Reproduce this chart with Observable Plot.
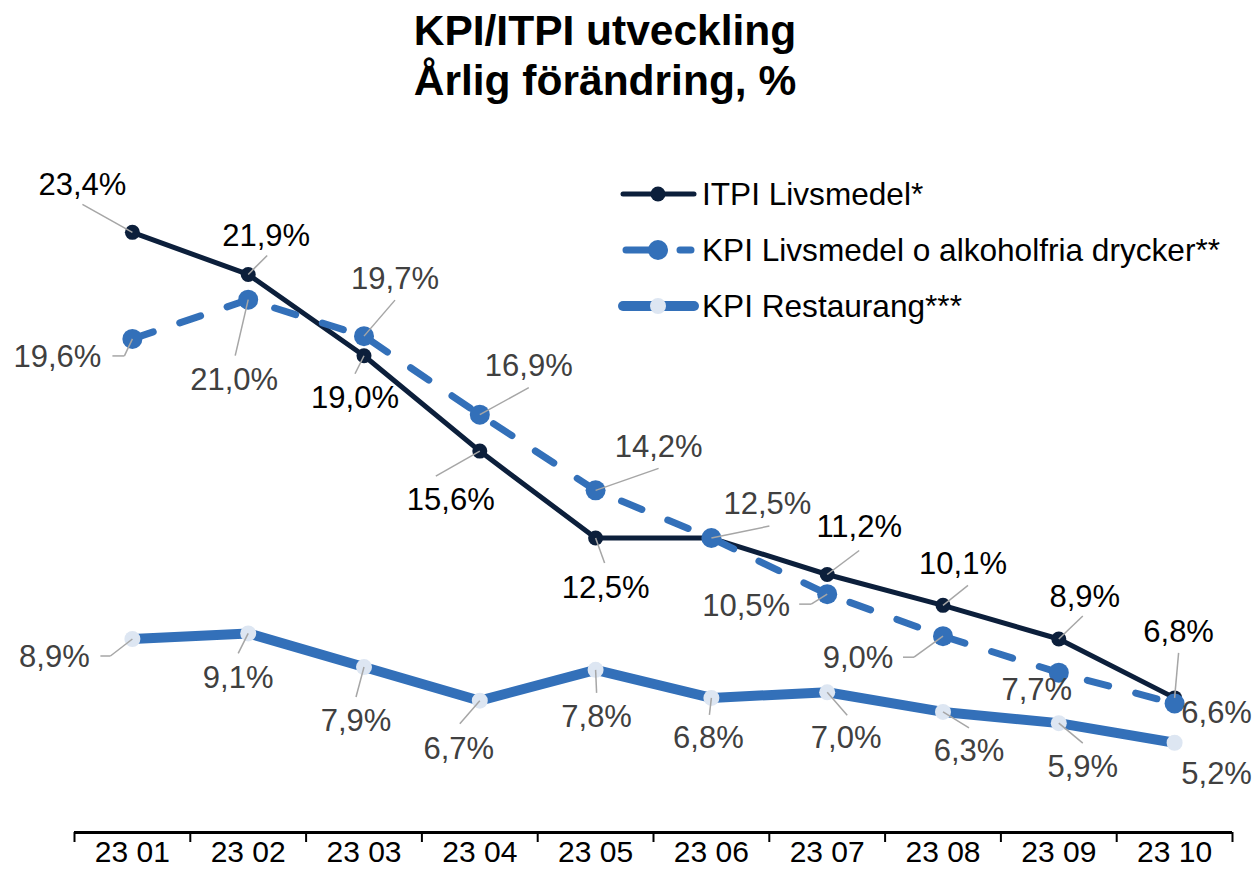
<!DOCTYPE html>
<html>
<head>
<meta charset="utf-8">
<script src="https://cdn.jsdelivr.net/npm/d3@7"></script>
<script src="https://cdn.jsdelivr.net/npm/@observablehq/plot@0.6"></script>
<style>
  body { margin: 0; background: #fff; font-family: "Liberation Sans", Arial, sans-serif; }
  #wrap { position: relative; width: 1256px; height: 875px; overflow: hidden; }
  #title { height: 110px; box-sizing: border-box; padding-top: 6px; width: 1210px; text-align: center;
           font-weight: bold; font-size: 42.5px; line-height: 50px; color: #000; }
  .legend-row { position: absolute; left: 618px; height: 40px; display: flex; align-items: center;
                font-size: 31.6px; color: #000; white-space: nowrap; }
  .legend-row svg { display: block; margin-right: 2px; }
  #chart svg g[aria-label="x-axis tick"] path,
  #chart svg g[aria-label="x-axis"] .tick line { stroke: #000; stroke-width: 2px; }
</style>
</head>
<body>
<div id="wrap">
  <div id="title">KPI/ITPI utveckling<br>Årlig förändring, %</div>
  <div id="chart"></div>
  <div id="legend"></div>
</div>
<script>
// ---------- data ----------
const categories = ["23 01", "23 02", "23 03", "23 04", "23 05", "23 06", "23 07", "23 08", "23 09", "23 10"];
const itpiLivsmedel = [23.4, 21.9, 19.0, 15.6, 12.5, 12.5, 11.2, 10.1, 8.9, 6.8];
const kpiLivsmedel  = [19.6, 21.0, 19.7, 16.9, 14.2, 12.5, 10.5, 9.0, 7.7, 6.6];
const kpiRestaurang = [8.9, 9.1, 7.9, 6.7, 7.8, 6.8, 7.0, 6.3, 5.9, 5.2];
const seriesNames = ["ITPI Livsmedel*", "KPI Livsmedel o alkoholfria drycker**", "KPI Restaurang***"];

// ---------- label placement (pixel offsets from the data point) ----------
const itpiLabelOffsets = [[-50,-47],[18,-38],[-9,42],[-29,49],[10,50],null,[32,-47],[20,-41],[26,-42],[4,-66]];
const itpiLeaders      = [[-50,-28],[19,-19],[-9,18],[-44,25],[9,25],null,[32,-24],[25,-20],[24,-23],[4,-45]];
const kpiLabelOffsets  = [[-75,18],[-14,80],[31,-57],[49,-49],[63,-43],[56,-34],[-81,12],[-85,22],[-22,17],[42,10]];
const kpiLeaders       = [[-8,17,-20,17],[-13,56],[31,-36],[49,-27],[63,-22],[58,-12],[-16,10,-28,10],[-29,21,-40,21],null,null];
const restLabelOffsets = [[-78,18],[-10,45],[-8,54],[-21,48],[1,47],[-3,40],[19,46],[26,39],[24,44],[42,31]];
const restLeaders      = [[-22,17,-32,17],[-10,20],[-8,30],[-20,23],[1,23],[-2,17],[20,23],[26,16],[24,20],null];

// ---------- layout ----------
const W = 1256, H = 765, mL = 74, mR = 24, mT = 77, mB = 43;
const xDom = [-0.5, categories.length - 0.5];
const yDom = [2, 25];
const pxX = (W - mL - mR) / (xDom[1] - xDom[0]);
const pxY = (H - mT - mB) / (yDom[1] - yDom[0]);
const navy = "#0c1f3b", blue = "#3370b9", light = "#dde6f2";

const fmt = v => v.toFixed(1).replace(".", ",") + "%";
const toRows = vals => vals.map((v, i) => ({i, v}));

const series = [
  {values: itpiLivsmedel, offsets: itpiLabelOffsets, leaders: itpiLeaders, dark: true},
  {values: kpiLivsmedel, offsets: kpiLabelOffsets, leaders: kpiLeaders, dark: false},
  {values: kpiRestaurang, offsets: restLabelOffsets, leaders: restLeaders, dark: false}
];
const labels = [], leaders = [];
series.forEach(s => s.values.forEach((v, i) => {
  const o = s.offsets[i];
  if (!o) return;
  labels.push({x: i + o[0] / pxX, y: v - o[1] / pxY, text: fmt(v), dark: s.dark});
  const L = s.leaders[i];
  if (!L) return;
  let px = i, py = v;
  for (let k = 0; k < L.length; k += 2) {
    const nx = i + L[k] / pxX, ny = v - L[k + 1] / pxY;
    leaders.push({x1: px, y1: py, x2: nx, y2: ny});
    px = nx; py = ny;
  }
}));

const boundaries = d3.range(categories.length + 1).map(k => k - 0.5);

const chart = Plot.plot({
  width: W, height: H,
  marginLeft: mL, marginRight: mR, marginTop: mT, marginBottom: mB,
  style: {fontFamily: '"Liberation Sans", Arial, sans-serif', background: "white", overflow: "visible"},
  x: {domain: xDom, ticks: boundaries, tickFormat: () => "", tickSize: 10, label: null},
  y: {domain: yDom, axis: null},
  marks: [
    Plot.ruleY([yDom[0]], {stroke: "#000", strokeWidth: 3}),
    Plot.line(toRows(itpiLivsmedel), {x: "i", y: "v", stroke: navy, strokeWidth: 5}),
    Plot.dot(toRows(itpiLivsmedel), {x: "i", y: "v", r: 7.5, fill: navy}),
    Plot.line(toRows(kpiLivsmedel), {x: "i", y: "v", stroke: blue, strokeWidth: 7, strokeDasharray: "22,28", strokeLinecap: "round"}),
    Plot.dot(toRows(kpiLivsmedel), {x: "i", y: "v", r: 10, fill: blue}),
    Plot.line(toRows(kpiRestaurang), {x: "i", y: "v", stroke: blue, strokeWidth: 10}),
    Plot.dot(toRows(kpiRestaurang), {x: "i", y: "v", r: 8, fill: light}),
    Plot.link(leaders, {x1: "x1", y1: "y1", x2: "x2", y2: "y2", stroke: "#a6a6a6", strokeWidth: 1.5}),
    Plot.text(labels.filter(d => d.dark), {x: "x", y: "y", text: "text", fill: "#000", fontSize: 31}),
    Plot.text(labels.filter(d => !d.dark), {x: "x", y: "y", text: "text", fill: "#404040", fontSize: 31}),
    Plot.text(categories, {x: (d, i) => i, text: d => d, frameAnchor: "bottom", dy: 29, fontSize: 30, fill: "#000"})
  ]
});
document.getElementById("chart").appendChild(chart);

// ---------- legend ----------
const legend = document.getElementById("legend");
const swatches = [
  `<svg width="82" height="30"><line x1="5" y1="15" x2="76" y2="15" stroke="${navy}" stroke-width="5" stroke-linecap="round"/><circle cx="40" cy="15" r="7.5" fill="${navy}"/></svg>`,
  `<svg width="82" height="30"><line x1="8" y1="15" x2="73" y2="15" stroke="${blue}" stroke-width="7" stroke-linecap="round" stroke-dasharray="38,16"/><circle cx="40" cy="15" r="10" fill="${blue}"/></svg>`,
  `<svg width="82" height="30"><line x1="5" y1="15" x2="76" y2="15" stroke="${blue}" stroke-width="10" stroke-linecap="round"/><circle cx="40" cy="15" r="8" fill="${light}"/></svg>`
];
const legendTops = [174, 230, 286];
seriesNames.forEach((name, k) => {
  const row = document.createElement("div");
  row.className = "legend-row";
  row.style.top = legendTops[k] + "px";
  row.innerHTML = swatches[k] + `<span>${name}</span>`;
  legend.appendChild(row);
});
</script>
</body>
</html>
